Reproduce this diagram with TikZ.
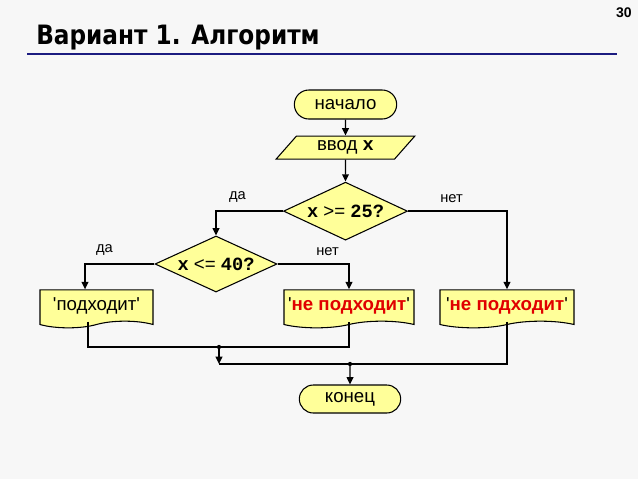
\documentclass[tikz,border=0pt]{standalone}
\usepackage{fontspec}
\setmainfont{Liberation Sans}[Ligatures=TeXOff]
\setmonofont{Liberation Mono}
\newfontfamily\titlefont{DejaVu Sans}[FakeStretch=0.87]
\usetikzlibrary{positioning,arrows.meta,shapes.geometric,shapes.misc,shapes.symbols}
\definecolor{boxfill}{HTML}{FFFF99}
\definecolor{bgcol}{HTML}{F7F7F7}
\definecolor{rulecol}{HTML}{1C1C80}
\definecolor{nocol}{HTML}{E00000}
\tikzset{
  base/.style={draw,fill=boxfill,line width=0.8pt,font=\fontsize{14}{16}\selectfont,inner sep=1pt},
  term/.style={base,rounded rectangle,minimum width=78.75pt,minimum height=21.75pt},
  inbox/.style={base,trapezium,trapezium left angle=39,trapezium right angle=141,
    trapezium stretches body,minimum width=104pt,minimum height=17.25pt},
  cond/.style={base,diamond,aspect=2.1,minimum width=93pt,minimum height=43.5pt,inner sep=0pt},
  outbox/.style={base,tape,tape bend top=none,tape bend height=5pt,minimum height=28.5pt},
  line/.style={line width=1.1pt},
  lbl/.style={font=\fontsize{11}{13}\selectfont,inner sep=0pt},
}
\newcommand{\varx}{\texttt{\textbf{x}}}
\newcommand{\notok}{'\textcolor{nocol}{\textbf{не подходит}}'}

\begin{document}
\begin{tikzpicture}[x=0.75pt,y=-0.75pt,>={Triangle[length=5.5pt,width=5pt]}]
\fill[bgcol] (0,0) rectangle (638,479);
\useasboundingbox (0,0) rectangle (638,479);
% title
\node[anchor=base west,inner sep=0pt,font=\titlefont\bfseries\fontsize{20}{24}\selectfont] (title) at (36,44) {Вариант 1. Алгоритм};
\draw[rulecol,line width=1.6pt] (27,54) -- (617,54);
\node[anchor=north east,inner sep=0pt,font=\bfseries\fontsize{10.5}{12}\selectfont] (page) at (632,7) {30};

% blocks
\node[term] (start) at (345.5,104.5) {начало};
\node[inbox,below=12pt of start] (inp) {ввод \varx};
\node[cond,below=16.5pt of inp] (c1) {\varx{} >= \texttt{\textbf{25?}}};
\node[cond,minimum width=91.5pt,minimum height=42pt] (c2) at (216,264) {\varx{} <= \texttt{\textbf{40?}}};
\node[outbox,minimum width=84.75pt] (out1) at (96.5,305.5) {'подходит'};
\node[outbox,minimum width=97.5pt] (out2) at (349,305.5) {\notok};
\node[outbox,minimum width=100.5pt] (out3) at (507,305.5) {\notok};
\node[term,minimum width=78pt,minimum height=21pt] (end) at (350,399) {конец};

% connectors
\draw[line,->] (start) -- (inp);
\draw[line,->] (inp) -- (c1);
\draw[line,->] (c1.west) -| node[lbl,pos=0.34,above=6pt]{да} (c2.north);
\draw[line,->] (c1.east) -| node[lbl,pos=0.22,above=6pt]{нет} (out3.north);
\draw[line,->] (c2.west) -| node[lbl,pos=0.36,above=6pt]{да} ([xshift=-8.6pt]out1.north);
\draw[line,->] (c2.east) -| node[lbl,pos=0.35,above=6pt]{нет} (out2.north);
\coordinate (m1) at (219,347);
\coordinate (m2) at (219,364);
\coordinate (m3) at (350,364);
\draw[line] ([xshift=-6.4pt]out1.south) |- (m1) -| (out2.south);
\draw[line] (out3.south) |- (m2);
\draw[line,->] (m1) -- (m2);
\draw[line,->] (m3) -- (end);
\fill (m1) circle[radius=1.6pt] (m3) circle[radius=1.6pt];
\end{tikzpicture}
\end{document}
